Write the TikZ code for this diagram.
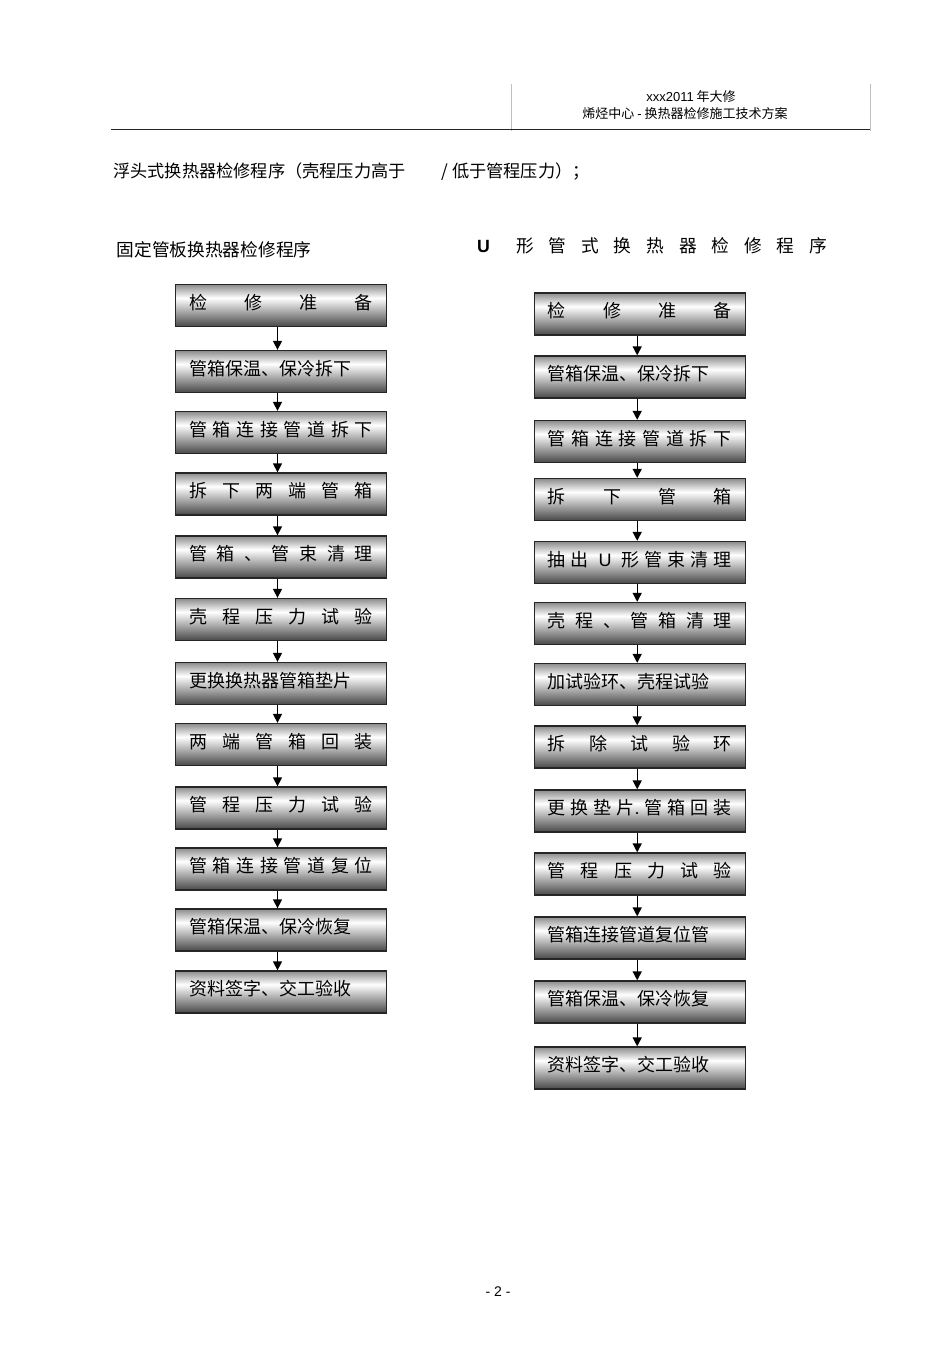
\documentclass[tikz,border=0pt]{standalone}
\usepackage{fontspec}
\setmainfont{Noto Sans CJK SC}
\newfontfamily\latf{Liberation Sans}
\usetikzlibrary{arrows.meta}
\pgfdeclareverticalshading{boxshade}{100bp}{color(0bp)=(black!72); color(25bp)=(black!72); color(59bp)=(white); color(75bp)=(black!45); color(100bp)=(black!45)}
\newcommand{\spreadtxt}[1]{\makebox[184pt][s]{#1}}
\newcommand{\lefttxt}[1]{\makebox[184pt][l]{#1}}
\tikzset{
  stepbox/.style={draw=black!85, line width=1.3pt, shading=boxshade, minimum width=211pt, minimum height=42pt, inner sep=0pt, font=\fontsize{18pt}{18pt}\selectfont, text height=15pt, text depth=8pt},
  arr/.style={line width=1.4pt, -{Triangle[width=9pt,length=9pt]}},
  ttl/.style={font=\fontsize{17.7pt}{18pt}\selectfont, inner sep=0pt, anchor=west},
  hdr/.style={font=\fontsize{13pt}{14pt}\selectfont, inner sep=0pt}
}
\begin{document}
\begin{tikzpicture}[x=1pt,y=-1pt]
\useasboundingbox[fill=white] (0,0) rectangle (950,1345);
% header
\draw[black!25, line width=0.8pt] (511.5,84) -- (511.5,131);
\draw[black!25, line width=0.8pt] (870.5,84) -- (870.5,131);
\draw[black!85, line width=1.3pt] (111,129.3) -- (870,129.3);
\node[hdr] (h1) at (691,96.5) {{\latf xxx2011} 年大修};
\node[hdr] (h2) at (685,113.5) {烯烃中心 {\latf -} 换热器检修施工技术方案};
% titles
\node[ttl, font=\fontsize{17.2pt}{18pt}\selectfont] (t0) at (113,172) {浮头式换热器检修程序（壳程压力高于\hspace{36pt}/ 低于管程压力）；};
\node[ttl] (t1) at (116.5,250) {固定管板换热器检修程序};
\node[ttl] (t2u) at (477,246) {\latf\bfseries U};
\node[ttl] (t2) at (516,246) {\makebox[311pt][s]{形\hfill{}管\hfill{}式\hfill{}换\hfill{}热\hfill{}器\hfill{}检\hfill{}修\hfill{}程\hfill{}序}};
% left column
\node[stepbox] (L1) at (281,305.5) {\spreadtxt{检\hfill{}修\hfill{}准\hfill{}备}};
\node[stepbox] (L2) at (281,371.5) {\lefttxt{管箱保温、保冷拆下}};
\node[stepbox] (L3) at (281,432.5) {\spreadtxt{管\hfill{}箱\hfill{}连\hfill{}接\hfill{}管\hfill{}道\hfill{}拆\hfill{}下}};
\node[stepbox] (L4) at (281,494) {\spreadtxt{拆\hfill{}下\hfill{}两\hfill{}端\hfill{}管\hfill{}箱}};
\node[stepbox] (L5) at (281,557) {\spreadtxt{管\hfill{}箱\hfill{}、\hfill{}管\hfill{}束\hfill{}清\hfill{}理}};
\node[stepbox] (L6) at (281,619.5) {\spreadtxt{壳\hfill{}程\hfill{}压\hfill{}力\hfill{}试\hfill{}验}};
\node[stepbox] (L7) at (281,683.5) {\lefttxt{更换换热器管箱垫片}};
\node[stepbox] (L8) at (281,744.5) {\spreadtxt{两\hfill{}端\hfill{}管\hfill{}箱\hfill{}回\hfill{}装}};
\node[stepbox] (L9) at (281,808) {\spreadtxt{管\hfill{}程\hfill{}压\hfill{}力\hfill{}试\hfill{}验}};
\node[stepbox] (L10) at (281,869) {\spreadtxt{管\hfill{}箱\hfill{}连\hfill{}接\hfill{}管\hfill{}道\hfill{}复\hfill{}位}};
\node[stepbox] (L11) at (281,930) {\lefttxt{管箱保温、保冷恢复}};
\node[stepbox] (L12) at (281,992) {\lefttxt{资料签字、交工验收}};
\foreach \a/\b in {L1/L2,L2/L3,L3/L4,L4/L5,L5/L6,L6/L7,L7/L8,L8/L9,L9/L10,L10/L11,L11/L12}
  \draw[arr] ([xshift=-3.5pt]\a.south) -- ([xshift=-3.5pt]\b.north);
% right column
\node[stepbox] (R1) at (639.7,314) {\spreadtxt{检\hfill{}修\hfill{}准\hfill{}备}};
\node[stepbox] (R2) at (639.7,377) {\lefttxt{管箱保温、保冷拆下}};
\node[stepbox] (R3) at (639.7,441.5) {\spreadtxt{管\hfill{}箱\hfill{}连\hfill{}接\hfill{}管\hfill{}道\hfill{}拆\hfill{}下}};
\node[stepbox] (R4) at (639.7,499.5) {\spreadtxt{拆\hfill{}下\hfill{}管\hfill{}箱}};
\node[stepbox] (R5) at (639.7,562.5) {\spreadtxt{抽\hfill{}出\hfill\hfill{}{\latf U}\hfill\hfill{}形\hfill{}管\hfill{}束\hfill{}清\hfill{}理}};
\node[stepbox] (R6) at (639.7,623.5) {\spreadtxt{壳\hfill{}程\hfill{}、\hfill{}管\hfill{}箱\hfill{}清\hfill{}理}};
\node[stepbox] (R7) at (639.7,684.5) {\lefttxt{加试验环、壳程试验}};
\node[stepbox] (R8) at (639.7,747) {\spreadtxt{拆\hfill{}除\hfill{}试\hfill{}验\hfill{}环}};
\node[stepbox] (R9) at (639.7,811) {\spreadtxt{更\hfill{}换\hfill{}垫\hfill{}片{\latf .}\hfill{}管\hfill{}箱\hfill{}回\hfill{}装}};
\node[stepbox] (R10) at (639.7,874) {\spreadtxt{管\hfill{}程\hfill{}压\hfill{}力\hfill{}试\hfill{}验}};
\node[stepbox] (R11) at (639.7,938) {\lefttxt{管箱连接管道复位管}};
\node[stepbox] (R12) at (639.7,1002) {\lefttxt{管箱保温、保冷恢复}};
\node[stepbox] (R13) at (639.7,1068) {\lefttxt{资料签字、交工验收}};
\foreach \a/\b in {R1/R2,R2/R3,R3/R4,R4/R5,R5/R6,R6/R7,R7/R8,R8/R9,R9/R10,R10/R11,R11/R12,R12/R13}
  \draw[arr] ([xshift=-2.5pt]\a.south) -- ([xshift=-2.5pt]\b.north);
% page number
\node[hdr, font=\latf\fontsize{14pt}{15pt}\selectfont] (pn) at (498,1292) {- 2 -};
\end{tikzpicture}
\end{document}
